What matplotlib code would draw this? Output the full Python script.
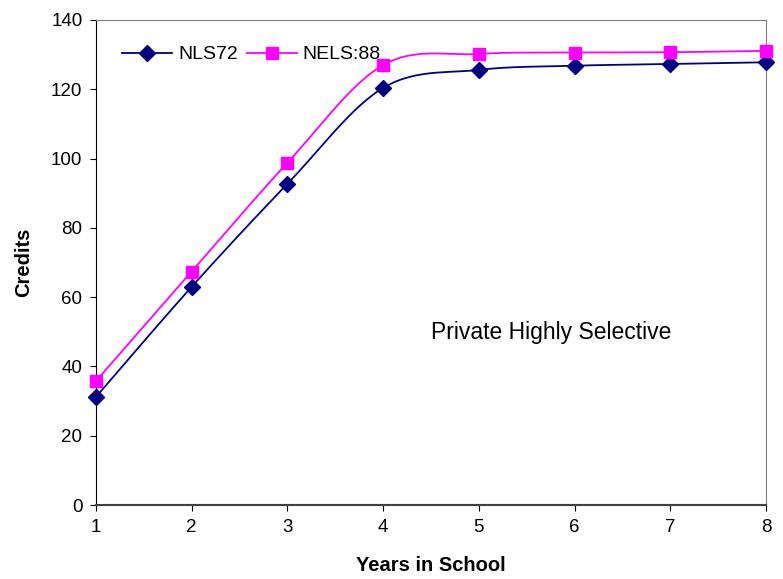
import numpy as np
import matplotlib
matplotlib.use("Agg")
import matplotlib.pyplot as plt

plt.rcParams['font.family'] = ['Liberation Sans', 'DejaVu Sans']

years = [1, 2, 3, 4, 5, 6, 7, 8]
nls72 = [31.2, 63.0, 92.7, 120.4, 125.6, 126.8, 127.3, 127.8]
nels88 = [35.8, 67.4, 98.8, 127.0, 130.2, 130.6, 130.7, 131.1]


def smooth(x, y, n=30):
    x = np.asarray(x, float)
    y = np.asarray(y, float)
    px = np.concatenate([[x[0]], x, [x[-1]]])
    py = np.concatenate([[y[0]], y, [y[-1]]])
    xs, ys = [], []
    t = np.linspace(0, 1, n)
    for i in range(1, len(px) - 2):
        p0 = np.array([px[i], py[i]])
        p3 = np.array([px[i + 1], py[i + 1]])
        c1 = p0 + (np.array([px[i + 1], py[i + 1]]) - np.array([px[i - 1], py[i - 1]])) / 6
        c2 = p3 - (np.array([px[i + 2], py[i + 2]]) - np.array([px[i], py[i]])) / 6
        b = ((1 - t) ** 3)[:, None] * p0 + (3 * (1 - t) ** 2 * t)[:, None] * c1 \
            + (3 * (1 - t) * t ** 2)[:, None] * c2 + (t ** 3)[:, None] * p3
        xs.extend(b[:, 0]); ys.extend(b[:, 1])
    return xs, ys


fig = plt.figure(figsize=(7.83, 5.79), dpi=100)
ax = fig.add_axes([96 / 783, 74 / 579, 670 / 783, 485 / 579])

navy = '#000080'
mag = '#FF00FF'
sx, sy = smooth(years, nls72)
ax.plot(sx, sy, color=navy, lw=1.3, zorder=2)
ax.plot(years, nls72, ls='none', marker='D', ms=8, color=navy, zorder=3, clip_on=False)
sx, sy = smooth(years, nels88)
ax.plot(sx, sy, color=mag, lw=1.3, zorder=2)
ax.plot(years, nels88, ls='none', marker='s', ms=8, color=mag, zorder=3, clip_on=False)

# legend handles
h1, = ax.plot([], [], color=navy, lw=1.3, marker='D', ms=8)
h2, = ax.plot([], [], color=mag, lw=1.3, marker='s', ms=8)
ax.legend([h1, h2], ['NLS72', 'NELS:88'], loc='upper left', ncol=2, frameon=False,
          fontsize=14, bbox_to_anchor=(0.039, 0.947), borderpad=0, borderaxespad=0,
          handlelength=2.57, columnspacing=0.46, handletextpad=0.3)

ax.set_xlim(1, 8)
ax.set_ylim(0, 140)
ax.set_xticks(years)
ax.set_yticks(np.arange(0, 141, 20))
ax.tick_params(direction='out', length=4.3, labelsize=13.5, colors='black', pad=5.5)
for s in ['top', 'right']:
    ax.spines[s].set_color('#808080')
ax.spines['left'].set_color('black')
ax.spines['bottom'].set_color('#404040')
ax.spines['bottom'].set_linewidth(1.5)

ax.set_xlabel('Years in School', fontsize=14.5, fontweight='bold', labelpad=14.5)
ax.set_ylabel('Credits', fontsize=14.5, fontweight='bold', labelpad=13)
ax.text(0.68, 0.355, 'Private Highly Selective', transform=ax.transAxes,
        fontsize=16.5, ha='center', va='center')

fig.savefig('out.png', dpi=100)
